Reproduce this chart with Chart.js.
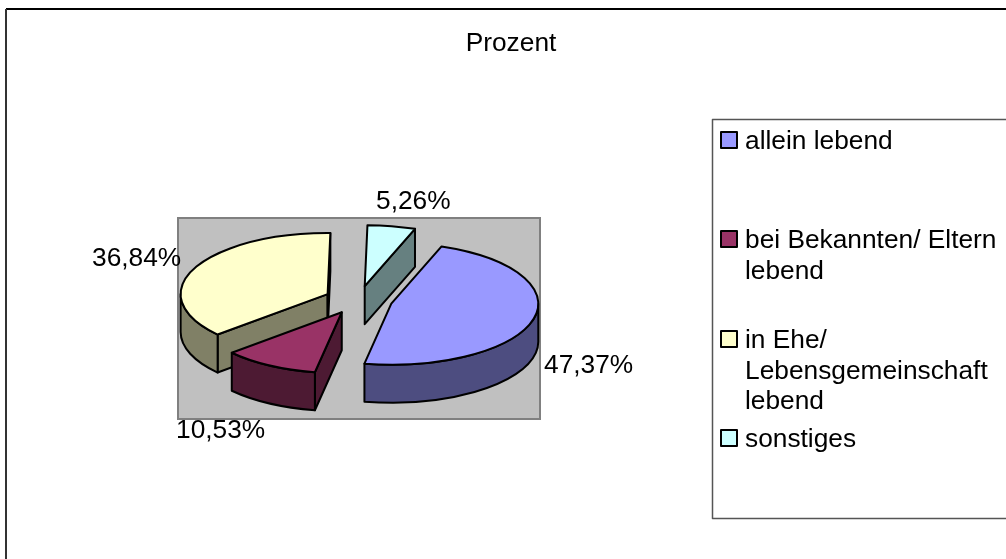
<!DOCTYPE html>
<html>
<head>
<meta charset="utf-8">
<style>html,body{margin:0;padding:0;background:#fff;overflow:hidden}#w{position:relative;width:1006px;height:559px}</style>
<script src="https://cdn.jsdelivr.net/npm/chart.js@4"></script>
</head>
<body>
<div id="w"><canvas id="c" width="1006" height="559"></canvas></div>
<script>
const titleText = 'Prozent';
const categories = ['allein lebend', 'bei Bekannten/ Eltern lebend', 'in Ehe/ Lebensgemeinschaft lebend', 'sonstiges'];
const percentValues = [47.37, 10.53, 36.84, 5.26];
const topColors = ['#9999FF', '#993366', '#FFFFCC', '#CCFFFF'];
const wallColors = ['#4D4D80', '#4D1A33', '#808066', '#668080'];
const legendLines = [['allein lebend'], ['bei Bekannten/ Eltern', 'lebend'], ['in Ehe/', 'Lebensgemeinschaft', 'lebend'], ['sonstiges']];

const FONT = '26.3px "Liberation Sans", Arial, sans-serif';
const SQUASH = 0.415, DEPTH = 38, EXPLODE = 34, LINE = 2;
const paintOrder = [3, 2, 1, 0];
const labelAnchors = [[544, 373], [176, 438], [92, 266], [376, 209]];
const legendBaselines = [[149], [248, 279], [348, 379, 409], [447]];

const pie3d = {
  id: 'pie3d',
  beforeDraw(chart) {
    const c = chart.ctx;
    c.save();
    c.fillStyle = '#fff';
    c.fillRect(0, 0, 1006, 559);
    c.strokeStyle = '#000'; c.lineWidth = 2;
    c.beginPath(); c.moveTo(1006, 9); c.lineTo(6, 9); c.stroke();
    c.strokeStyle = '#333';
    c.beginPath(); c.moveTo(6, 9); c.lineTo(6, 559); c.stroke();
    c.fillStyle = '#C0C0C0'; c.strokeStyle = '#808080'; c.lineWidth = 2;
    c.fillRect(178, 218, 362, 201); c.strokeRect(178, 218, 362, 201);
    c.restore();
  },
  beforeDatasetDraw() { return false; },
  afterDatasetsDraw(chart) {
    const c = chart.ctx, arcs = chart.getDatasetMeta(0).data;
    c.lineWidth = LINE; c.strokeStyle = '#000'; c.lineJoin = 'round';
    for (const i of paintOrder) {
      const a = arcs[i], s = a.startAngle, e = a.endAngle, r = a.outerRadius;
      const mid = (s + e) / 2;
      const cx = a.x + Math.cos(mid) * EXPLODE, cy = a.y + Math.sin(mid) * EXPLODE * SQUASH;
      const px = t => cx + r * Math.cos(t), py = t => cy + r * SQUASH * Math.sin(t);
      const quad = t => {
        c.beginPath(); c.moveTo(cx, cy); c.lineTo(px(t), py(t));
        c.lineTo(px(t), py(t) + DEPTH); c.lineTo(cx, cy + DEPTH); c.closePath();
        c.fillStyle = wallColors[i]; c.fill(); c.stroke();
      };
      if (Math.cos(s) < 0) quad(s);
      if (Math.cos(e) > 0) quad(e);
      for (const [lo, hi] of [[0, Math.PI], [2 * Math.PI, 3 * Math.PI], [-2 * Math.PI, -Math.PI]]) {
        const a0 = Math.max(s, lo), a1 = Math.min(e, hi);
        if (a1 > a0) {
          c.beginPath();
          c.ellipse(cx, cy, r, r * SQUASH, 0, a0, a1);
          c.ellipse(cx, cy + DEPTH, r, r * SQUASH, 0, a1, a0, true);
          c.closePath();
          c.fillStyle = wallColors[i]; c.fill(); c.stroke();
        }
      }
      c.save();
      c.translate(cx, cy); c.scale(1, SQUASH); c.translate(-a.x, -a.y);
      a.draw(c);
      c.restore();
      c.beginPath();
      c.moveTo(cx, cy);
      c.ellipse(cx, cy, r, r * SQUASH, 0, s, e);
      c.closePath();
      c.stroke();
    }
  },
  afterDraw(chart) {
    const c = chart.ctx;
    c.save();
    c.font = FONT; c.fillStyle = '#000'; c.textBaseline = 'alphabetic';
    c.textAlign = 'center';
    c.fillText(titleText, 511, 51);
    c.textAlign = 'left';
    percentValues.forEach((v, i) => {
      c.fillText(v.toFixed(2).replace('.', ',') + '%', labelAnchors[i][0], labelAnchors[i][1]);
    });
    c.fillStyle = '#fff'; c.strokeStyle = '#555'; c.lineWidth = 1.5;
    c.fillRect(712.5, 119.5, 320, 399); c.strokeRect(712.5, 119.5, 320, 399);
    legendLines.forEach((lines, i) => {
      const b0 = legendBaselines[i][0];
      c.fillStyle = topColors[i]; c.strokeStyle = '#000'; c.lineWidth = 2;
      c.fillRect(721, b0 - 17, 16, 16); c.strokeRect(721, b0 - 17, 16, 16);
      c.fillStyle = '#000';
      lines.forEach((t, j) => c.fillText(t, 745, legendBaselines[i][j]));
    });
    c.restore();
  }
};

new Chart(document.getElementById('c'), {
  type: 'pie',
  data: {
    labels: categories,
    datasets: [{ data: percentValues, backgroundColor: topColors, borderWidth: 0, clip: false }]
  },
  options: {
    responsive: false,
    animation: false,
    rotation: 20,
    radius: 147,
    layout: { padding: { left: 0, right: 289, top: 41, bottom: 0 } },
    plugins: { legend: { display: false }, title: { display: false }, tooltip: { enabled: false } }
  },
  plugins: [pie3d]
});
</script>
</body>
</html>
